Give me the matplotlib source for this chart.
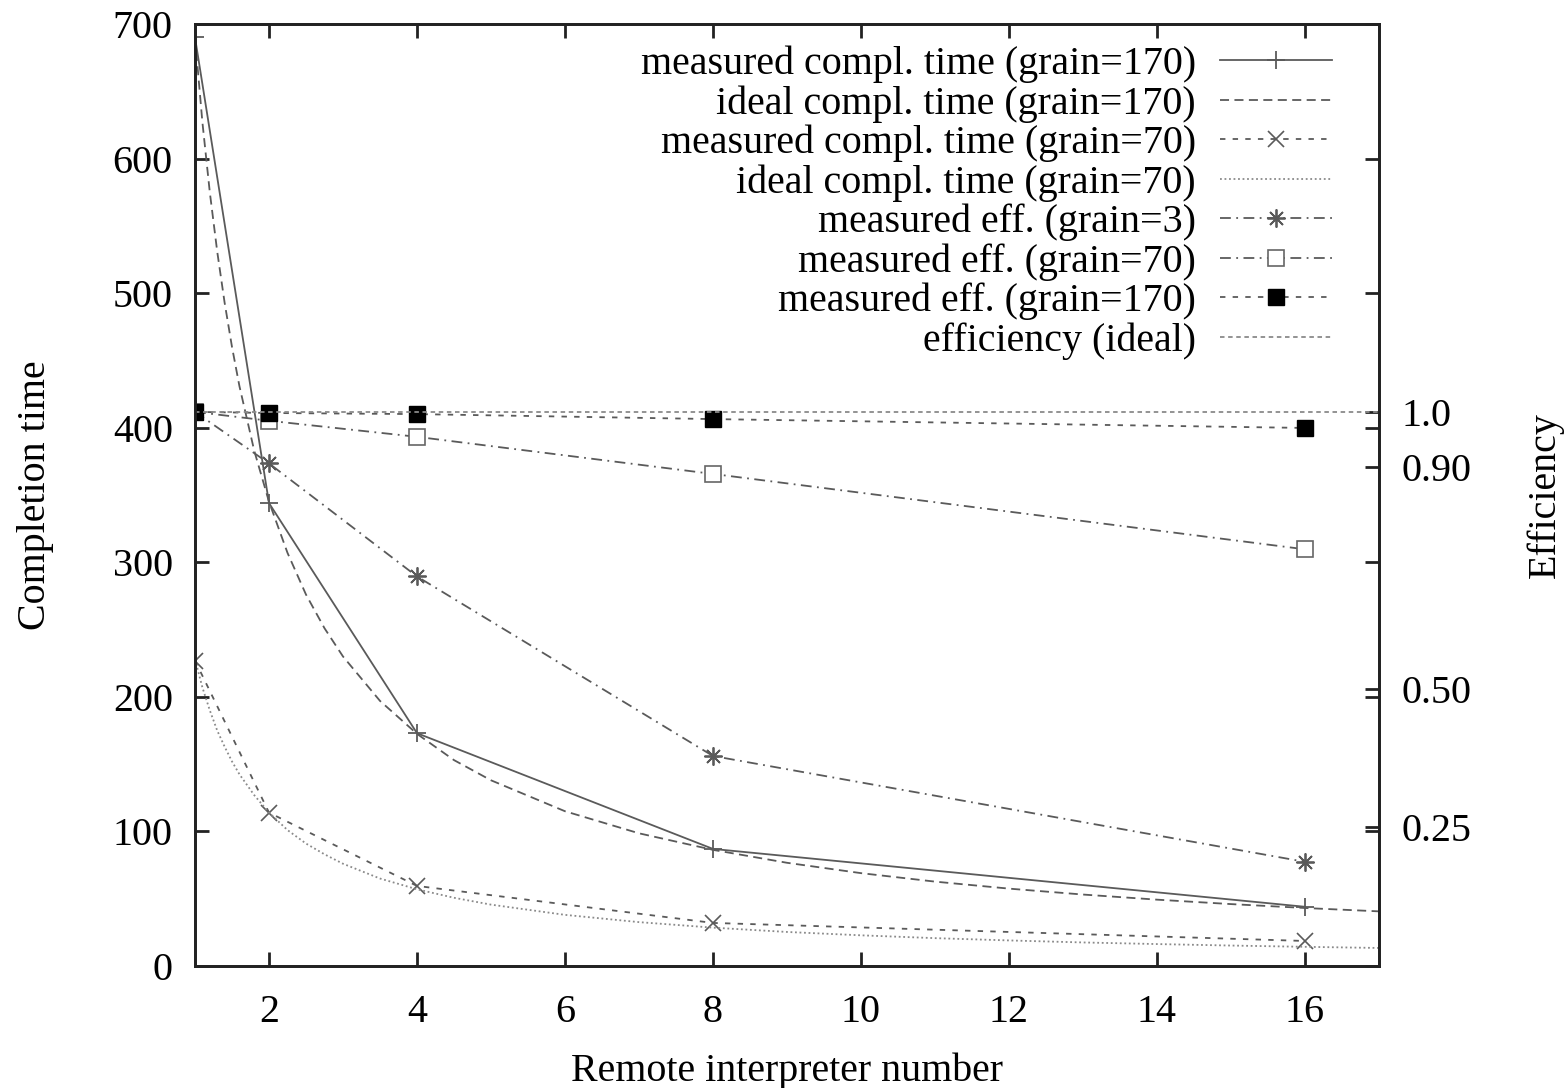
import matplotlib
matplotlib.use("Agg")
import matplotlib.pyplot as plt

plt.rcParams['font.family'] = ['Liberation Serif', 'DejaVu Serif']

# ---- data ----
procs = [1, 2, 4, 8, 16]
time_meas_170 = [690, 344, 173, 87, 44]
time_meas_70 = [227, 114, 59.5, 32, 18.6]
eff_meas_3 = [1.0, 0.907, 0.703, 0.379, 0.188]
eff_meas_70 = [1.0, 0.984, 0.955, 0.888, 0.752]
eff_meas_170 = [1.0, 0.998, 0.996, 0.987, 0.971]

# ideal curves
ideal_x = [1, 1.1, 1.2, 1.3, 1.4, 1.5, 1.6, 1.8, 2, 2.25, 2.5, 2.75, 3, 3.5, 4,
           4.5, 5, 6, 7, 8, 9, 10, 11, 12, 13, 14, 15, 16, 17]
time_ideal_170 = [690, 627, 575, 531, 493, 460, 431, 383, 345, 307, 276, 251, 230,
                  197, 172.5, 153, 138, 115, 98.6, 86.3, 76.7, 69, 62.7, 57.5,
                  53.1, 49.3, 46, 43.1, 40.6]
time_ideal_70 = [228, 207, 190, 175, 163, 152, 142.5, 127, 114, 101, 91, 83, 76,
                 65, 57, 50.7, 45.6, 38, 32.6, 28.5, 25.3, 22.8, 20.7, 19, 17.5,
                 16.3, 15.2, 14.25, 13.4]
eff_ideal_x = [1, 17]
eff_ideal = [1.0, 1.0]

xticks = [2, 4, 6, 8, 10, 12, 14, 16]
yticks = [0, 100, 200, 300, 400, 500, 600, 700]
y2ticks = [0.25, 0.50, 0.90, 1.0]
y2ticklabels = ['0.25', '0.50', '0.90', '1.0']

FS = 28.8
W, H = 1568, 1088
fig = plt.figure(figsize=(W / 100, H / 100), dpi=100)
ax = fig.add_axes([195 / W, 1 - 966 / H, (1379 - 195) / W, (966 - 24) / H])
ax2 = ax.twinx()

c = '#5a5a5a'
cl = '#8a8a8a'
lw = 1.3

h1, = ax.plot(procs, time_meas_170, color=c, lw=lw, ls='-', marker='+', ms=13, mew=1.3,
              label='measured compl. time (grain=170)')
h2, = ax.plot(ideal_x, time_ideal_170, color=c, lw=lw, dashes=(5, 3),
              label='ideal compl. time (grain=170)')
h3, = ax.plot(procs, time_meas_70, color=c, lw=lw, dashes=(3, 4), marker='x', ms=11, mew=1.2,
              label='measured compl. time (grain=70)')
h4, = ax.plot(ideal_x, time_ideal_70, color=cl, lw=lw, dashes=(1, 1.5),
              label='ideal compl. time (grain=70)')
h5, = ax2.plot(procs, eff_meas_3, color=c, lw=lw, dashes=(6, 3, 1, 3), marker=(8, 2, 0),
               ms=13, mew=1.3, label='measured eff. (grain=3)')
h6, = ax2.plot(procs, eff_meas_70, color=c, lw=lw, dashes=(6, 3, 1, 3), marker='s', ms=11,
               mfc='white', mec='#666666', mew=1.2, label='measured eff. (grain=70)')
h7, = ax2.plot(procs, eff_meas_170, color=c, lw=lw, dashes=(3, 4), marker='s', ms=11,
               mfc='black', mec='black', label='measured eff. (grain=170)')
h8, = ax2.plot(eff_ideal_x, eff_ideal, color=cl, lw=lw, dashes=(2.5, 2),
               label='efficiency (ideal)')

ax.set_xlim(1, 17)
ax.set_ylim(0, 700)
ax2.set_ylim(0, 1.70)

ax.set_xticks(xticks)
ax.set_yticks(yticks)
ax2.set_yticks(y2ticks)
ax2.set_yticklabels(y2ticklabels)

for a in (ax, ax2):
    for s in a.spines.values():
        s.set_linewidth(2.0)
        s.set_color('#222222')

ax.tick_params(axis='both', direction='in', length=10, width=2, labelsize=FS,
               top=True, right=True, pad=16, colors='#222222', labelcolor='black')
ax.tick_params(axis='x', pad=20)
ax2.tick_params(axis='y', direction='in', length=10, width=2, labelsize=FS,
                pad=16, colors='#222222', labelcolor='black')

ax.set_xlabel('Remote interpreter number', fontsize=FS, labelpad=16)
ax.set_ylabel('Completion time', fontsize=FS, labelpad=42)
ax2.set_ylabel('Efficiency', fontsize=FS, labelpad=40)

handles = [h1, h2, h3, h4, h5, h6, h7, h8]
leg = ax2.legend(handles=handles, loc='upper right', bbox_to_anchor=(0.960, 0.977),
                 frameon=False, markerfirst=False, fontsize=FS, numpoints=1,
                 handlelength=2.8, handletextpad=0.6, labelspacing=0.05,
                 borderpad=0, borderaxespad=0)

fig.savefig('out.png', dpi=100)
